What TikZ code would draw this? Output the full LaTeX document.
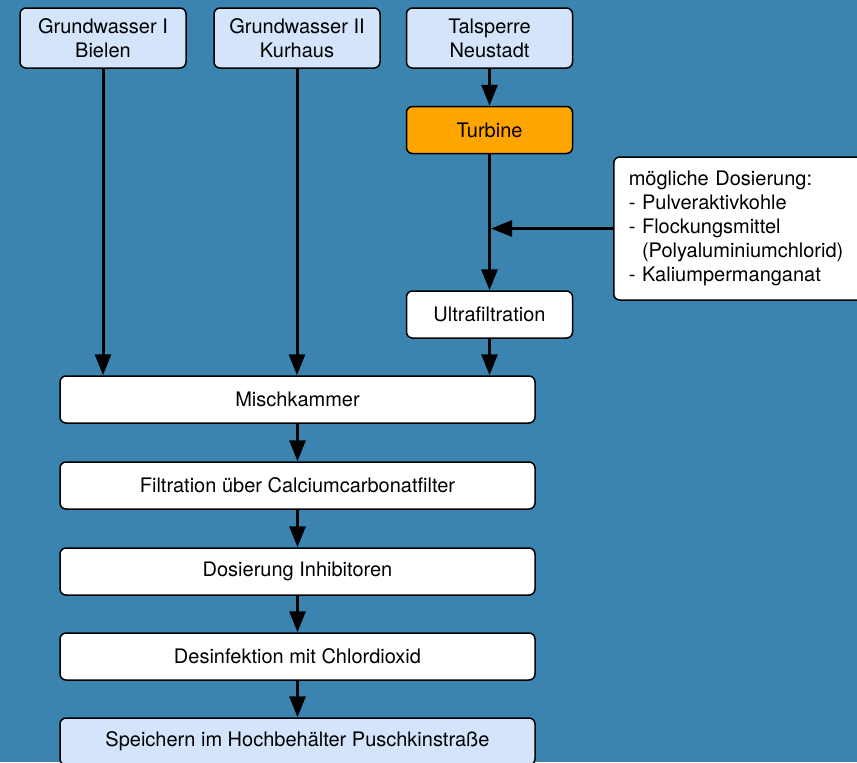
\documentclass[tikz,border=0pt]{standalone}
\usepackage{fontspec}
\setmainfont{TeX Gyre Heros}
\usetikzlibrary{arrows.meta,positioning,calc}
\definecolor{bgblue}{HTML}{3C84B0}
\definecolor{paleblue}{HTML}{D4E5FB}
\definecolor{turborange}{HTML}{FFA500}

\begin{document}
\begin{tikzpicture}[
    x=0.5pt, y=-0.5pt,
    font=\fontsize{10}{12}\selectfont,
    stage/.style={draw=black, line width=0.75pt, rounded corners=3pt, minimum width=83pt, minimum height=23.5pt, align=center, fill=white, inner sep=2pt},
    sourcebox/.style={stage, fill=paleblue, minimum height=30pt},
    longstage/.style={stage, minimum width=237.5pt},
    notebox/.style={stage, align=left, anchor=west, text width=115pt, inner xsep=7.5pt, minimum height=71.5pt},
    arrow/.style={-{Triangle[length=10.5pt,width=8pt]}, line width=1.5pt, draw=black}
]
\useasboundingbox (0,0) rectangle (857,762);
\clip (0,0) rectangle (857,762);
\fill[bgblue] (0,0) rectangle (857,762);
% sources
\node[sourcebox] (gw1) at (103,38) {Grundwasser I\\Bielen};
\node[sourcebox] (gw2) at (297,38) {Grundwasser II\\Kurhaus};
\node[sourcebox] (tal) at (489.5,38) {Talsperre\\Neustadt};
\node[stage, fill=turborange] (turb) at (489.5,130) {Turbine};
\node[stage] (ultra) at (489.5,314.5) {Ultrafiltration};
\node[notebox] (note) at (613,228.5) {mögliche Dosierung:\\- Pulveraktivkohle\\- Flockungsmittel\\\hphantom{- }(Polyaluminiumchlorid)\\- Kaliumpermanganat};
\coordinate (join) at (491,228.5);
% treatment chain
\node[longstage] (misch) at (297.5,399.5) {Mischkammer};
\node[longstage] (filt) at (297.5,485.5) {Filtration über Calciumcarbonatfilter};
\node[longstage] (inhib) at (297.5,571.5) {Dosierung Inhibitoren};
\node[longstage] (desinf) at (297.5,656.5) {Desinfektion mit Chlordioxid};
\node[longstage, fill=paleblue] (hb) at (297.5,741.5) {Speichern im Hochbehälter Puschkinstraße};
\draw[arrow] (tal) -- (turb);
\draw[arrow] (turb) -- (ultra);
\draw[arrow] (note.west) -- (join);
\draw[arrow] (gw1) -- (gw1 |- misch.north);
\draw[arrow] (gw2) -- (gw2 |- misch.north);
\draw[arrow] (ultra) -- (ultra |- misch.north);
\draw[arrow] (misch) -- (filt);
\draw[arrow] (filt) -- (inhib);
\draw[arrow] (inhib) -- (desinf);
\draw[arrow] (desinf) -- (hb);
\end{tikzpicture}
\end{document}
